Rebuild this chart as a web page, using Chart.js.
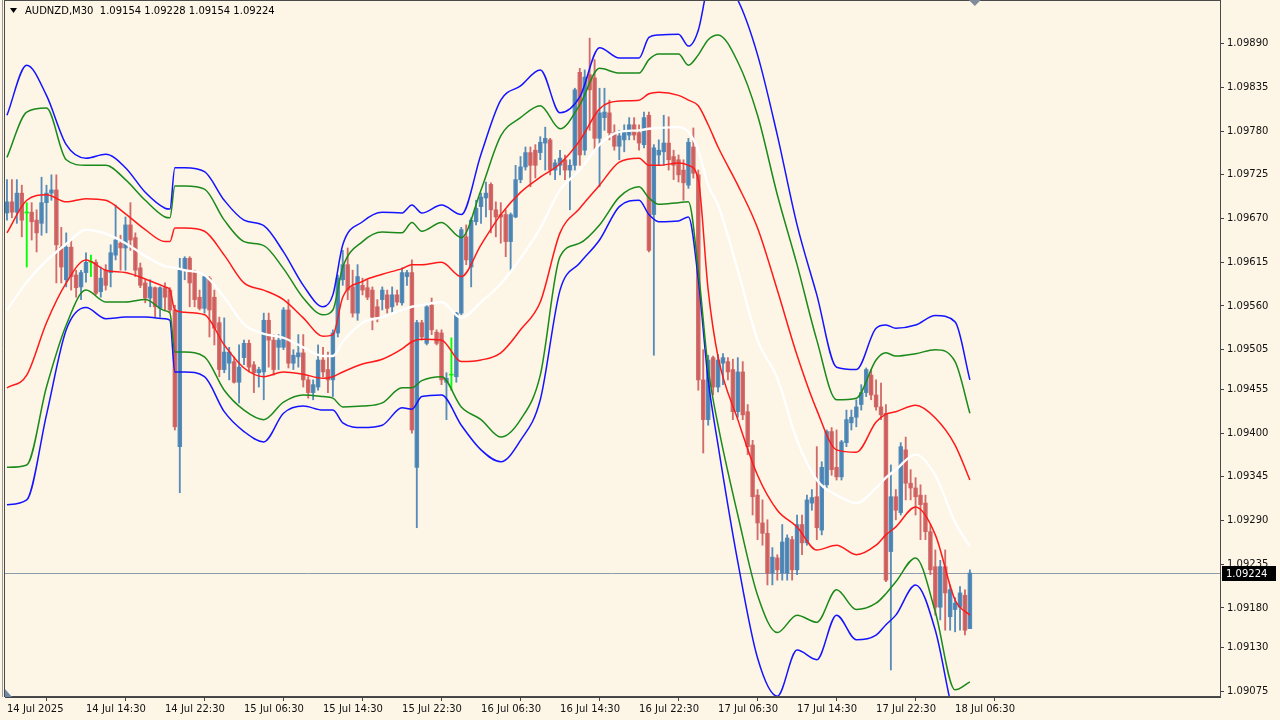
<!DOCTYPE html>
<html>
<head>
<meta charset="utf-8">
<script src="https://cdn.jsdelivr.net/npm/chart.js@4.4.1/dist/chart.umd.min.js"></script>
<style>
  html, body { margin: 0; padding: 0; background: #fdf5e6; }
  canvas { display: block; }
</style>
</head>
<body>
<canvas id="chart" width="1280" height="720"></canvas>
<script>
const symbol = "AUDNZD,M30";

// time axis: one label every 16 bars (8 hours of M30)
const tickBars = [0, 16, 32, 48, 64, 80, 96, 112, 128, 144, 160, 176, 192];
const timeLabels = ["14 Jul 2025", "14 Jul 14:30", "14 Jul 22:30", "15 Jul 06:30", "15 Jul 14:30",
  "15 Jul 22:30", "16 Jul 06:30", "16 Jul 14:30", "16 Jul 22:30", "17 Jul 06:30",
  "17 Jul 14:30", "17 Jul 22:30", "18 Jul 06:30"];

const priceTicks = [1.09075, 1.09130, 1.09180, 1.09235, 1.09290, 1.09345, 1.09400, 1.09455,
  1.09505, 1.09560, 1.09615, 1.09670, 1.09725, 1.09780, 1.09835, 1.09890];

// candles, one per M30 bar from 14 Jul 06:30
const open = [
1.09677,1.09691,1.09678,1.09702,1.09677,1.09678,1.09668,1.09664,1.09690,1.09702,
1.09706,1.09634,1.09593,1.09634,1.09599,1.09584,1.09602,1.09615,1.09615,1.09578,
1.09605,1.09602,1.09624,1.09639,1.09633,1.09662,1.09646,1.09608,1.09589,1.09570,
1.09583,1.09557,1.09583,1.09580,1.09555,1.09383,1.09605,1.09620,1.09602,1.09571,
1.09557,1.09595,1.09571,1.09539,1.09480,1.09488,1.09490,1.09464,1.09495,1.09513,
1.09486,1.09476,1.09477,1.09542,1.09517,1.09508,1.09508,1.09555,1.09488,1.09496,
1.09501,1.09467,1.09451,1.09458,1.09492,1.09480,1.09467,1.09526,1.09593,1.09612,
1.09584,1.09551,1.09586,1.09583,1.09580,1.09559,1.09568,1.09574,1.09559,1.09574,
1.09564,1.09597,1.09602,1.09357,1.09539,1.09513,1.09561,1.09527,1.09526,1.09464,
1.09473,1.09471,1.09551,1.09647,1.09609,1.09666,1.09685,1.09696,1.09713,1.09681,
1.09675,1.09675,1.09641,1.09672,1.09719,1.09735,1.09753,1.09756,1.09753,1.09765,
1.09769,1.09731,1.09737,1.09744,1.09731,1.09737,1.09854,1.09756,1.09851,1.09847,
1.09771,1.09797,1.09803,1.09778,1.09761,1.09769,1.09775,1.09788,1.09778,1.09763,
1.09800,1.09675,1.09750,1.09754,1.09765,1.09748,1.09744,1.09731,1.09712,1.09760,
1.09725,1.09467,1.09417,1.09495,1.09458,1.09488,1.09490,1.09480,1.09427,1.09477,
1.09427,1.09385,1.09322,1.09287,1.09274,1.09224,1.09243,1.09224,1.09224,1.09266,
1.09228,1.09285,1.09262,1.09312,1.09320,1.09278,1.09335,1.09402,1.09357,1.09345,
1.09388,1.09413,1.09420,1.09436,1.09451,1.09473,1.09448,1.09433,1.09425,1.09251,
1.09320,1.09300,1.09379,1.09337,1.09331,1.09322,1.09312,1.09276,1.09232,1.09181,
1.09232,1.09169,1.09178,1.09181,1.09196,1.09154];
const high = [
1.09719,1.09719,1.09719,1.09712,1.09690,1.09690,1.09681,1.09722,1.09712,1.09725,
1.09725,1.09659,1.09652,1.09643,1.09605,1.09605,1.09627,1.09624,1.09618,1.09609,
1.09612,1.09637,1.09687,1.09649,1.09672,1.09690,1.09652,1.09614,1.09593,1.09593,
1.09584,1.09584,1.09589,1.09583,1.09561,1.09620,1.09622,1.09622,1.09605,1.09580,
1.09599,1.09597,1.09580,1.09546,1.09545,1.09508,1.09496,1.09511,1.09517,1.09517,
1.09490,1.09483,1.09551,1.09551,1.09524,1.09524,1.09558,1.09568,1.09505,1.09524,
1.09524,1.09471,1.09467,1.09511,1.09508,1.09502,1.09530,1.09599,1.09630,1.09633,
1.09605,1.09612,1.09595,1.09593,1.09584,1.09568,1.09584,1.09580,1.09584,1.09580,
1.09608,1.09605,1.09618,1.09542,1.09542,1.09561,1.09570,1.09530,1.09530,1.09476,
1.09520,1.09552,1.09659,1.09662,1.09671,1.09693,1.09702,1.09716,1.09715,1.09691,
1.09690,1.09681,1.09677,1.09737,1.09748,1.09760,1.09760,1.09763,1.09773,1.09785,
1.09771,1.09744,1.09756,1.09750,1.09744,1.09834,1.09859,1.09857,1.09897,1.09870,
1.09834,1.09834,1.09819,1.09788,1.09781,1.09788,1.09797,1.09797,1.09788,1.09804,
1.09804,1.09763,1.09769,1.09800,1.09798,1.09756,1.09750,1.09744,1.09771,1.09784,
1.09731,1.09505,1.09498,1.09497,1.09499,1.09500,1.09495,1.09493,1.09495,1.09490,
1.09436,1.09391,1.09329,1.09316,1.09291,1.09256,1.09247,1.09285,1.09272,1.09270,
1.09297,1.09297,1.09322,1.09329,1.09383,1.09364,1.09404,1.09407,1.09404,1.09391,
1.09429,1.09429,1.09442,1.09461,1.09482,1.09480,1.09467,1.09463,1.09436,1.09360,
1.09329,1.09388,1.09395,1.09354,1.09344,1.09335,1.09322,1.09285,1.09253,1.09240,
1.09253,1.09209,1.09193,1.09207,1.09203,1.09228];
const low = [
1.09668,1.09671,1.09664,1.09647,1.09609,1.09643,1.09628,1.09649,1.09652,1.09693,
1.09589,1.09589,1.09584,1.09580,1.09571,1.09568,1.09590,1.09597,1.09574,1.09571,
1.09580,1.09584,1.09618,1.09605,1.09605,1.09630,1.09597,1.09583,1.09564,1.09559,
1.09546,1.09546,1.09555,1.09552,1.09404,1.09325,1.09593,1.09559,1.09559,1.09555,
1.09551,1.09521,1.09511,1.09471,1.09476,1.09467,1.09463,1.09438,1.09486,1.09477,
1.09451,1.09458,1.09442,1.09483,1.09473,1.09480,1.09505,1.09482,1.09480,1.09483,
1.09458,1.09444,1.09442,1.09454,1.09471,1.09451,1.09446,1.09521,1.09586,1.09568,
1.09546,1.09542,1.09574,1.09568,1.09530,1.09540,1.09555,1.09551,1.09552,1.09561,
1.09561,1.09586,1.09400,1.09281,1.09517,1.09511,1.09524,1.09511,1.09461,1.09417,
1.09454,1.09464,1.09549,1.09612,1.09584,1.09662,1.09664,1.09672,1.09652,1.09647,
1.09639,1.09622,1.09605,1.09671,1.09715,1.09731,1.09710,1.09721,1.09744,1.09731,
1.09725,1.09719,1.09725,1.09719,1.09681,1.09731,1.09737,1.09750,1.09781,1.09756,
1.09710,1.09781,1.09769,1.09756,1.09744,1.09754,1.09769,1.09769,1.09756,1.09759,
1.09628,1.09498,1.09737,1.09737,1.09731,1.09719,1.09716,1.09693,1.09708,1.09721,
1.09454,1.09375,1.09410,1.09448,1.09452,1.09461,1.09467,1.09417,1.09420,1.09417,
1.09373,1.09297,1.09266,1.09259,1.09209,1.09209,1.09215,1.09215,1.09215,1.09215,
1.09222,1.09247,1.09259,1.09303,1.09266,1.09272,1.09329,1.09347,1.09341,1.09341,
1.09383,1.09404,1.09408,1.09429,1.09446,1.09442,1.09429,1.09417,1.09213,1.09102,
1.09291,1.09297,1.09316,1.09316,1.09297,1.09266,1.09266,1.09222,1.09171,1.09165,
1.09152,1.09152,1.09150,1.09152,1.09146,1.09154];
const close = [
1.09691,1.09678,1.09702,1.09668,1.09677,1.09666,1.09652,1.09690,1.09702,1.09706,
1.09637,1.09609,1.09634,1.09597,1.09583,1.09602,1.09615,1.09615,1.09576,1.09595,
1.09586,1.09627,1.09643,1.09633,1.09662,1.09643,1.09605,1.09586,1.09570,1.09584,
1.09559,1.09583,1.09571,1.09555,1.09408,1.09605,1.09620,1.09589,1.09568,1.09557,
1.09597,1.09555,1.09532,1.09480,1.09502,1.09502,1.09464,1.09483,1.09513,1.09483,
1.09476,1.09480,1.09542,1.09517,1.09480,1.09517,1.09555,1.09488,1.09498,1.09501,
1.09467,1.09451,1.09461,1.09492,1.09477,1.09467,1.09526,1.09595,1.09612,1.09580,
1.09551,1.09597,1.09580,1.09571,1.09546,1.09546,1.09580,1.09557,1.09574,1.09565,
1.09602,1.09602,1.09404,1.09539,1.09521,1.09559,1.09530,1.09513,1.09467,1.09469,
1.09473,1.09551,1.09656,1.09618,1.09668,1.09683,1.09697,1.09702,1.09681,1.09672,
1.09672,1.09641,1.09675,1.09719,1.09735,1.09753,1.09737,1.09737,1.09766,1.09771,
1.09731,1.09740,1.09746,1.09731,1.09737,1.09832,1.09750,1.09848,1.09832,1.09771,
1.09803,1.09804,1.09778,1.09761,1.09774,1.09779,1.09788,1.09775,1.09765,1.09797,
1.09630,1.09759,1.09756,1.09765,1.09744,1.09737,1.09725,1.09715,1.09766,1.09727,
1.09467,1.09417,1.09492,1.09458,1.09492,1.09495,1.09477,1.09427,1.09477,1.09423,
1.09383,1.09320,1.09287,1.09274,1.09224,1.09244,1.09228,1.09263,1.09268,1.09228,
1.09285,1.09262,1.09316,1.09319,1.09281,1.09357,1.09402,1.09354,1.09345,1.09389,
1.09417,1.09420,1.09433,1.09451,1.09480,1.09448,1.09433,1.09423,1.09215,1.09320,
1.09303,1.09383,1.09337,1.09331,1.09320,1.09310,1.09276,1.09228,1.09181,1.09232,
1.09199,1.09203,1.09186,1.09199,1.09152,1.09224];

// band indicator, read at these bar numbers
const bandBars = [0,4,8,12,16,20,24,28,32,33,34,36,40,44,48,52,56,60,64,66,68,72,76,80,82,84,88,92,96,100,
  104,108,112,116,120,124,128,130,132,136,138,140,142,144,148,152,156,160,164,168,172,176,178,180,184,188,192,195];
const midLine = [1.09555,1.09590,1.09617,1.09638,1.09656,1.09651,1.09639,1.09623,1.09610,1.09609,1.09608,1.09605,1.09599,1.09571,1.09537,1.09525,1.09520,1.09508,1.09497,1.09497,1.09515,1.09539,1.09546,1.09555,1.09559,1.09561,1.09565,1.09545,1.09565,1.09588,1.09620,1.09658,1.09706,1.09731,1.09763,1.09779,1.09781,1.09783,1.09784,1.09785,1.09779,1.09756,1.09712,1.09687,1.09605,1.09517,1.09469,1.09391,1.09341,1.09322,1.09312,1.09331,1.09344,1.09354,1.09373,1.09347,1.09288,1.09257];
const redUpper = [1.09652,1.09693,1.09700,1.09691,1.09695,1.09693,1.09676,1.09656,1.09641,1.09641,1.09658,1.09658,1.09654,1.09624,1.09589,1.09580,1.09568,1.09545,1.09522,1.09524,1.09571,1.09591,1.09600,1.09607,1.09612,1.09612,1.09615,1.09597,1.09637,1.09675,1.09703,1.09722,1.09739,1.09768,1.09808,1.09818,1.09819,1.09827,1.09829,1.09825,1.09819,1.09812,1.09788,1.09760,1.09712,1.09658,1.09580,1.09498,1.09429,1.09379,1.09376,1.09414,1.09424,1.09427,1.09435,1.09419,1.09385,1.09341];
const redLower = [1.09457,1.09473,1.09539,1.09589,1.09618,1.09605,1.09602,1.09594,1.09584,1.09580,1.09555,1.09552,1.09549,1.09511,1.09482,1.09471,1.09477,1.09474,1.09469,1.09471,1.09477,1.09487,1.09493,1.09506,1.09515,1.09518,1.09517,1.09490,1.09492,1.09501,1.09530,1.09565,1.09652,1.09683,1.09712,1.09741,1.09746,1.09737,1.09737,1.09740,1.09737,1.09719,1.09580,1.09496,1.09417,1.09347,1.09303,1.09282,1.09253,1.09259,1.09247,1.09259,1.09272,1.09282,1.09307,1.09272,1.09190,1.09171];
const greenUpper = [1.09747,1.09804,1.09809,1.09744,1.09737,1.09737,1.09719,1.09693,1.09672,1.09671,1.09711,1.09711,1.09707,1.09668,1.09641,1.09636,1.09607,1.09570,1.09549,1.09555,1.09609,1.09641,1.09653,1.09652,1.09665,1.09654,1.09665,1.09646,1.09706,1.09774,1.09797,1.09812,1.09783,1.09813,1.09859,1.09853,1.09853,1.09870,1.09877,1.09877,1.09863,1.09876,1.09895,1.09901,1.09867,1.09800,1.09700,1.09612,1.09517,1.09442,1.09444,1.09492,1.09501,1.09497,1.09500,1.09505,1.09490,1.09425];
const greenLower = [1.09357,1.09360,1.09458,1.09536,1.09580,1.09565,1.09565,1.09568,1.09554,1.09551,1.09502,1.09502,1.09496,1.09454,1.09429,1.09417,1.09439,1.09448,1.09446,1.09444,1.09433,1.09434,1.09438,1.09457,1.09457,1.09466,1.09471,1.09433,1.09417,1.09395,1.09417,1.09473,1.09622,1.09639,1.09662,1.09697,1.09710,1.09696,1.09688,1.09690,1.09691,1.09605,1.09482,1.09410,1.09297,1.09196,1.09149,1.09171,1.09162,1.09203,1.09178,1.09186,1.09198,1.09213,1.09243,1.09175,1.09077,1.09087];
const blueUpper = [1.09800,1.09863,1.09825,1.09763,1.09746,1.09751,1.09734,1.09703,1.09683,1.09682,1.09734,1.09734,1.09729,1.09693,1.09668,1.09661,1.09628,1.09586,1.09559,1.09574,1.09637,1.09666,1.09678,1.09677,1.09687,1.09677,1.09687,1.09675,1.09751,1.09819,1.09837,1.09857,1.09803,1.09823,1.09885,1.09872,1.09872,1.09898,1.09901,1.09902,1.09887,1.09907,1.09964,1.09976,1.09945,1.09876,1.09775,1.09662,1.09574,1.09483,1.09480,1.09532,1.09536,1.09532,1.09536,1.09548,1.09540,1.09467];
const blueLower = [1.09310,1.09316,1.09423,1.09530,1.09558,1.09544,1.09546,1.09546,1.09544,1.09542,1.09477,1.09477,1.09471,1.09427,1.09402,1.09389,1.09425,1.09434,1.09429,1.09429,1.09413,1.09407,1.09410,1.09432,1.09430,1.09446,1.09448,1.09410,1.09379,1.09364,1.09391,1.09442,1.09580,1.09614,1.09643,1.09685,1.09693,1.09675,1.09666,1.09667,1.09672,1.09593,1.09467,1.09385,1.09238,1.09117,1.09069,1.09127,1.09115,1.09171,1.09140,1.09146,1.09159,1.09171,1.09209,1.09152,1.09039,1.09014];

const upColor = "rgba(70,130,180,0.9)";
const downColor = "rgba(205,92,92,0.9)";
const dojiColor = "#00ff00";
const candleColors = open.map((o, i) => close[i] > o ? upColor : (close[i] < o ? downColor : dojiColor));

const wicks = open.map((o, i) => ({ x: i, y: [low[i], high[i]] }));
const bodies = open.map((o, i) => ({ x: i, y: [o, close[i]] }));

function band(values, color, width) {
  return {
    type: "line",
    data: values.map((v, i) => ({ x: bandBars[i], y: v })),
    borderColor: color,
    borderWidth: width,
    pointRadius: 0,
    cubicInterpolationMode: "monotone",
    order: 0
  };
}

const fontFam = '"DejaVu Sans", Verdana, sans-serif';
const fmt = v => v.toFixed(5);

const mt4Chrome = {
  id: "mt4Chrome",
  beforeDraw(chart) {
    const ctx = chart.ctx;
    ctx.save();
    ctx.fillStyle = "#fdf5e6";
    ctx.fillRect(0, 0, chart.width, chart.height);
    ctx.restore();
  },
  beforeDatasetsDraw(chart) {
    const { ctx, chartArea: a, scales } = chart;
    const py = Math.round(scales.y.getPixelForValue(close[close.length - 1])) + 0.5;
    ctx.save();
    ctx.strokeStyle = "#8d9cab";
    ctx.lineWidth = 1;
    ctx.beginPath();
    ctx.moveTo(a.left, py);
    ctx.lineTo(a.right, py);
    ctx.stroke();
    ctx.restore();
  },
  afterDraw(chart) {
    const { ctx, chartArea: a, scales } = chart;
    const n = close.length - 1;
    ctx.save();
    // frame
    ctx.strokeStyle = "#4a4a4a";
    ctx.lineWidth = 1;
    ctx.strokeRect(a.left - 0.5, a.top + 0.5, a.right - a.left + 1, a.bottom - a.top - 1);
    ctx.strokeStyle = "#9a9a9a";
    ctx.beginPath();
    ctx.moveTo(a.left - 2.5, 0);
    ctx.lineTo(a.left - 2.5, a.bottom);
    ctx.stroke();

    // symbol line
    ctx.fillStyle = "#000";
    ctx.beginPath();
    ctx.moveTo(10, 8);
    ctx.lineTo(17, 8);
    ctx.lineTo(13.5, 13);
    ctx.closePath();
    ctx.fill();
    ctx.font = "10px " + fontFam;
    ctx.textBaseline = "middle";
    ctx.textAlign = "left";
    ctx.fillText(symbol + "  " + fmt(open[n]) + " " + fmt(high[n]) + " " + fmt(low[n]) + " " + fmt(close[n]), 25, 11);

    // last price tag
    const py = Math.round(scales.y.getPixelForValue(close[n]));
    ctx.fillStyle = "#000";
    ctx.fillRect(a.right + 2, py - 7, 54, 15);
    ctx.fillStyle = "#fff";
    ctx.fillText(fmt(close[n]), a.right + 6, py + 1);

    // chart shift marker
    const sx = scales.x.getPixelForValue(n + 1);
    ctx.fillStyle = "#7f8c99";
    ctx.beginPath();
    ctx.moveTo(sx - 6, 0);
    ctx.lineTo(sx + 6, 0);
    ctx.lineTo(sx, 6);
    ctx.closePath();
    ctx.fill();
    ctx.fillStyle = "#6f8aa5";
    ctx.beginPath();
    ctx.moveTo(a.left, a.bottom - 8);
    ctx.lineTo(a.left + 7, a.bottom);
    ctx.lineTo(a.left, a.bottom);
    ctx.closePath();
    ctx.fill();
    ctx.restore();
  }
};

new Chart(document.getElementById("chart"), {
  type: "bar",
  data: {
    datasets: [
      band(blueUpper, "#1414ff", 1.5),
      band(greenUpper, "#1a8a1a", 1.5),
      band(redUpper, "#ff1a1a", 1.5),
      band(midLine, "#ffffff", 2.4),
      band(redLower, "#ff1a1a", 1.5),
      band(greenLower, "#1a8a1a", 1.5),
      band(blueLower, "#1414ff", 1.5),
      {
        data: bodies,
        backgroundColor: candleColors,
        barThickness: 3.8,
        minBarLength: 1,
        grouped: false,
        order: 1
      },
      {
        data: wicks,
        backgroundColor: candleColors,
        barThickness: 1.2,
        grouped: false,
        order: 2
      }
    ]
  },
  options: {
    responsive: false,
    animation: false,
    devicePixelRatio: 1,
    layout: { padding: { left: 5, top: 0, right: 0, bottom: 0 } },
    plugins: { legend: { display: false }, tooltip: { enabled: false } },
    scales: {
      x: {
        type: "linear",
        offset: false,
        min: -0.4,
        max: 245.65,
        grid: { drawOnChartArea: false, drawTicks: true, tickLength: 4, color: "#444" },
        border: { display: true, color: "#444" },
        ticks: {
          autoSkip: false,
          maxRotation: 0,
          align: "start",
          padding: 2,
          color: "#111",
          font: { family: fontFam, size: 10 },
          callback: (v, i) => timeLabels[i]
        },
        afterBuildTicks: s => { s.ticks = tickBars.map(v => ({ value: v })); },
        afterFit: s => { s.height = 23; s.paddingLeft = 0; s.paddingRight = 0; }
      },
      y: {
        type: "linear",
        position: "right",
        min: 1.09068,
        max: 1.09945,
        grid: { drawOnChartArea: false, drawTicks: true, tickLength: 4, color: "#444" },
        border: { display: true, color: "#444" },
        ticks: {
          autoSkip: false,
          padding: 3,
          color: "#111",
          font: { family: fontFam, size: 10 },
          callback: v => fmt(v)
        },
        afterBuildTicks: s => { s.ticks = priceTicks.map(v => ({ value: v })); },
        afterFit: s => { s.width = 60; s.paddingTop = 0; s.paddingBottom = 0; }
      }
    }
  },
  plugins: [mt4Chrome]
});
</script>
</body>
</html>
